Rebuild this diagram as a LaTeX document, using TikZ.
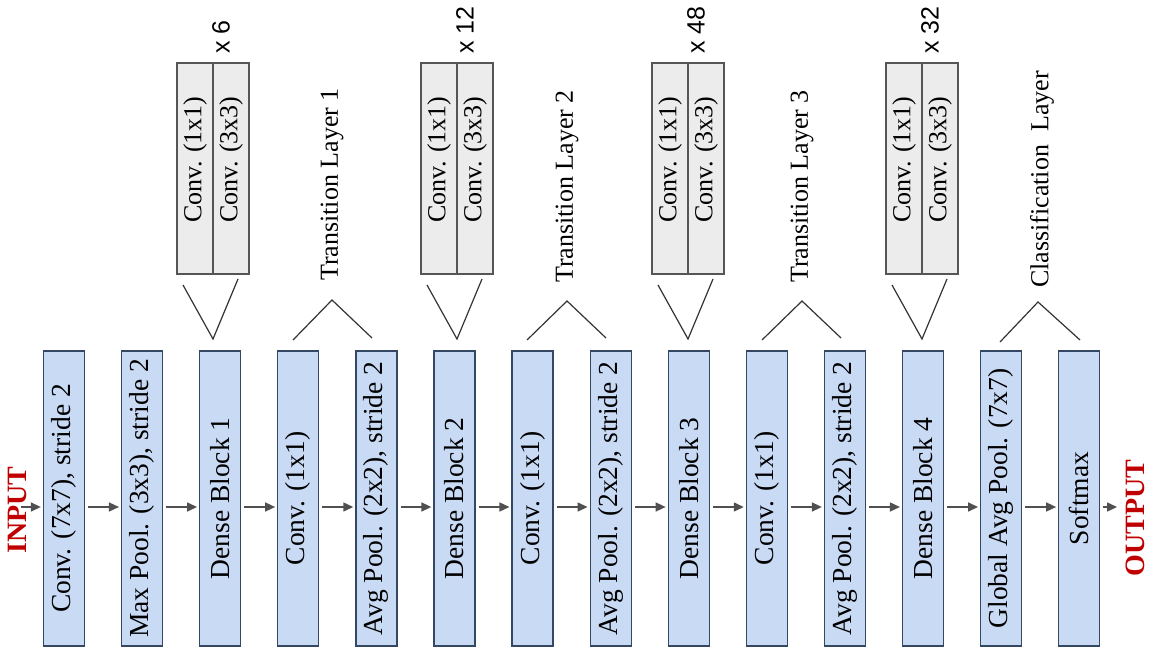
\documentclass[tikz,border=0pt]{standalone}
\usepackage{fontspec}
\setmainfont{Liberation Serif}
\newfontfamily\sansf{Liberation Sans}
\usepackage{graphicx}
\usetikzlibrary{arrows.meta,calc}
\definecolor{boxfill}{RGB}{201,218,245}
\definecolor{boxline}{RGB}{52,72,100}
\definecolor{grayfill}{RGB}{236,236,236}
\definecolor{grayline}{RGB}{85,85,85}
\definecolor{arrowc}{RGB}{80,80,80}
\definecolor{redlab}{RGB}{192,0,0}
\begin{document}
\begin{tikzpicture}[x=1pt,y=-1pt,
  layer/.style={draw=boxline, fill=boxfill, line width=1.3pt, minimum width=41pt, minimum height=295pt, inner sep=0pt, font=\fontsize{27.5}{30}\selectfont},
  sub/.style={draw=grayline, fill=grayfill, line width=1.3pt, minimum width=36pt, minimum height=211pt, inner sep=0pt, font=\fontsize{26}{30}\selectfont},
  conn/.style={draw=arrowc, line width=1.5pt, -{Triangle[length=10pt,width=9pt]}, shorten >=2pt, shorten <=3pt},
  wedge/.style={draw=black!80, line width=1.2pt},
  grp/.style={rotate=90, anchor=west, inner sep=0pt, font=\fontsize{26}{30}\selectfont},
  rep/.style={rotate=90, anchor=west, inner sep=0pt, font=\sansf\fontsize{25}{28}\selectfont},
  io/.style={rotate=90, inner sep=0pt, text=redlab, font=\bfseries\fontsize{28}{30}\selectfont}
]
\useasboundingbox (0,0) rectangle (1150,652);
\coordinate (ay) at (0,507);

% main layers
\node[layer] (l1)  at (64,498.5)    {\rotatebox{90}{Conv. (7x7), stride 2}};
\node[layer] (l2)  at (142.1,498.5) {\rotatebox{90}{Max Pool. (3x3), stride 2}};
\node[layer] (l3)  at (220.2,498.5) {\rotatebox{90}{Dense Block 1}};
\node[layer] (l4)  at (298.3,498.5) {\rotatebox{90}{Conv. (1x1)}};
\node[layer] (l5)  at (376.4,498.5) {\rotatebox{90}{Avg Pool. (2x2), stride 2}};
\node[layer] (l6)  at (454.5,498.5) {\rotatebox{90}{Dense Block 2}};
\node[layer] (l7)  at (532.6,498.5) {\rotatebox{90}{Conv. (1x1)}};
\node[layer] (l8)  at (610.7,498.5) {\rotatebox{90}{Avg Pool. (2x2), stride 2}};
\node[layer] (l9)  at (688.8,498.5) {\rotatebox{90}{Dense Block 3}};
\node[layer] (l10) at (766.9,498.5) {\rotatebox{90}{Conv. (1x1)}};
\node[layer] (l11) at (845,498.5)   {\rotatebox{90}{Avg Pool. (2x2), stride 2}};
\node[layer] (l12) at (923.1,498.5) {\rotatebox{90}{Dense Block 4}};
\node[layer] (l13) at (1001.2,498.5){\rotatebox{90}{Global Avg Pool. (7x7)}};
\node[layer] (l14) at (1079.3,498.5){\rotatebox{90}{Softmax}};

% arrows between layers
\foreach \a/\b in {l1/l2,l2/l3,l3/l4,l4/l5,l5/l6,l6/l7,l7/l8,l8/l9,l9/l10,l10/l11,l11/l12,l12/l13,l13/l14}
  \draw[conn] (\a.east |- ay) -- (\b.west |- ay);

% input / output
\node[io] (inp) at (17,510) {INPUT};
\coordinate (inS) at (21,507);
\draw[conn, shorten <=0pt] (inS) -- (l1.west |- ay);
\node[io] (outp) at (1135,518) {OUTPUT};
\coordinate (outE) at (1117,507);
\draw[conn, shorten >=0pt] (l14.east |- ay) -- (outE);

% dense block internals
\foreach \d/\n/\r in {213/1/6, 457/2/12, 688/3/48, 922/4/32}{
  \node[sub] (g\n a) at (\d-18,168.5) {\rotatebox{90}{\hspace{18pt}Conv. (1x1)}};
  \node[sub] (g\n b) at (\d+18,168.5) {\rotatebox{90}{\hspace{18pt}Conv. (3x3)}};
  \node[rep] (r\n) at (\d+8,54) {x \r};
  \draw[wedge] (\d-30,285) -- (\d,339) -- (\d+25,279);
}

% transition layers
\node[grp] (t1) at (332,281) {Transition Layer 1};
\draw[wedge] (293,340) -- (332,300) -- (372,338);
\node[grp] (t2) at (567,283) {Transition Layer 2};
\draw[wedge] (527,340) -- (567,301) -- (606,338);
\node[grp] (t3) at (802,283) {Transition Layer 3};
\draw[wedge] (762,340) -- (802,301) -- (841,338);

% classification
\node[grp] (cl) at (1042,288) {Classification\hspace{0.5em}Layer};
\draw[wedge] (1000,342) -- (1038,302) -- (1080,340);
\end{tikzpicture}
\end{document}
